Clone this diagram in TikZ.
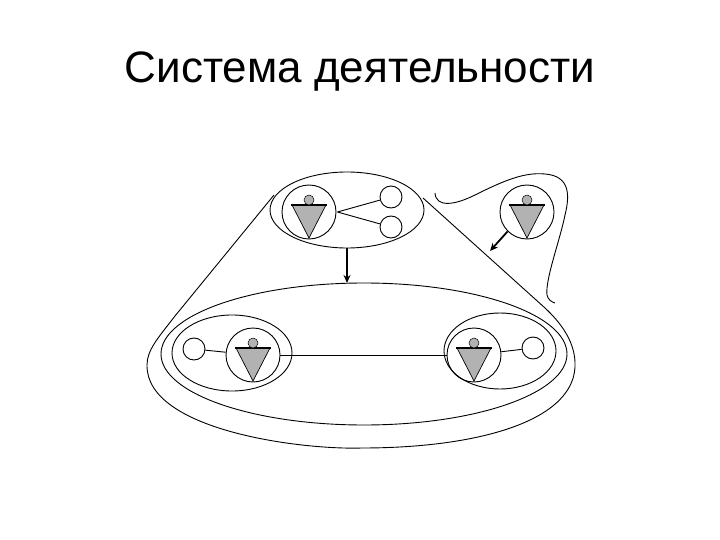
\documentclass[tikz,border=0pt]{standalone}
\usepackage{fontspec}
\setmainfont{Liberation Sans}
\usetikzlibrary{arrows.meta,shapes.geometric}
\tikzset{
  ln/.style={draw=black,line width=0.9pt},
  thk/.style={draw=black,line width=1.8pt,-{Stealth[length=8pt,width=7pt]}},
  small/.style={circle,ln,minimum size=22pt,inner sep=0pt},
  pcirc/.style={circle,ln,inner sep=0pt},
}
\newcommand{\person}[3]{% name, x, y
  \node[pcirc,minimum size=54pt] (#1) at (#2,#3) {};
  \fill[gray!60] (#2-17,#3-7) -- (#2+17,#3-7) -- (#2,#3+26) -- cycle;
  \draw[line width=0.7pt] (#2-17,#3-7) -- (#2,#3+26) -- (#2+17,#3-7);
  \draw[line width=1.6pt] (#2-18,#3-7) -- (#2+18,#3-7);
  \fill[gray!60,draw=black,line width=0.5pt] (#2,#3-12) circle (5);
}
\begin{document}
\begin{tikzpicture}[x=1pt,y=-1pt]
\useasboundingbox (0,0) rectangle (720,540);
\node[font=\fontsize{44}{48}\selectfont] (title) at (360,72) {Система деятельности};
% top group
\node[ellipse,ln,minimum width=154pt,minimum height=76pt,inner sep=0pt,draw] (top) at (347,210) {};
\person{p1}{309}{212}
\node[small] (c1) at (391,197) {};
\node[small] (c2) at (391,227) {};
\path (p1.east) ++(1,0) coordinate (p1e);
\draw[ln] (p1e) -- (c1);
\draw[ln] (p1e) -- (c2);
% arrow down
\coordinate (ab) at (347,283);
\draw[thk] (top.south) -- (ab);
% big ellipse
\node[ellipse,draw,line width=0.9pt,minimum width=406pt,minimum height=142pt,inner sep=0pt] (big) at (364,354) {};
% inner left
\node[ellipse,draw,line width=0.9pt,minimum width=120pt,minimum height=76pt,inner sep=0pt] (L) at (232,353) {};
\person{p2}{253}{355}
\node[small] (c3) at (194,349) {};
\draw[ln] (c3) -- (p2);
% inner right
\node[ellipse,draw,line width=0.9pt,minimum width=112pt,minimum height=76pt,inner sep=0pt] (R) at (500,351) {};
\person{p3}{474}{355}
\node[small] (c4) at (533,348) {};
\draw[ln] (p3) -- (c4);
\draw[ln] (p2) -- (p3);
% right person
\person{p4}{527}{212}
\coordinate (ah) at (490,251);
\draw[thk] (p4.225) -- (ah);
% outer tent
\draw[ln] (274,195) -- (175,316) .. controls (158,338) and (147,350) .. (147,365)
  .. controls (146,430) and (300,450) .. (362,448)
  .. controls (480,448) and (578,420) .. (575,362)
  .. controls (574,340) and (560,322) .. (545,308) -- (423,198);
% wavy line
\draw[ln] (435,193) .. controls (436,208) and (455,205) .. (475,195)
  .. controls (505,180) and (525,172) .. (545,174)
  .. controls (570,176) and (570,195) .. (565,215)
  .. controls (560,240) and (545,280) .. (547,295)
  .. controls (548,300) and (552,302) .. (555,303);
\end{tikzpicture}
\end{document}
